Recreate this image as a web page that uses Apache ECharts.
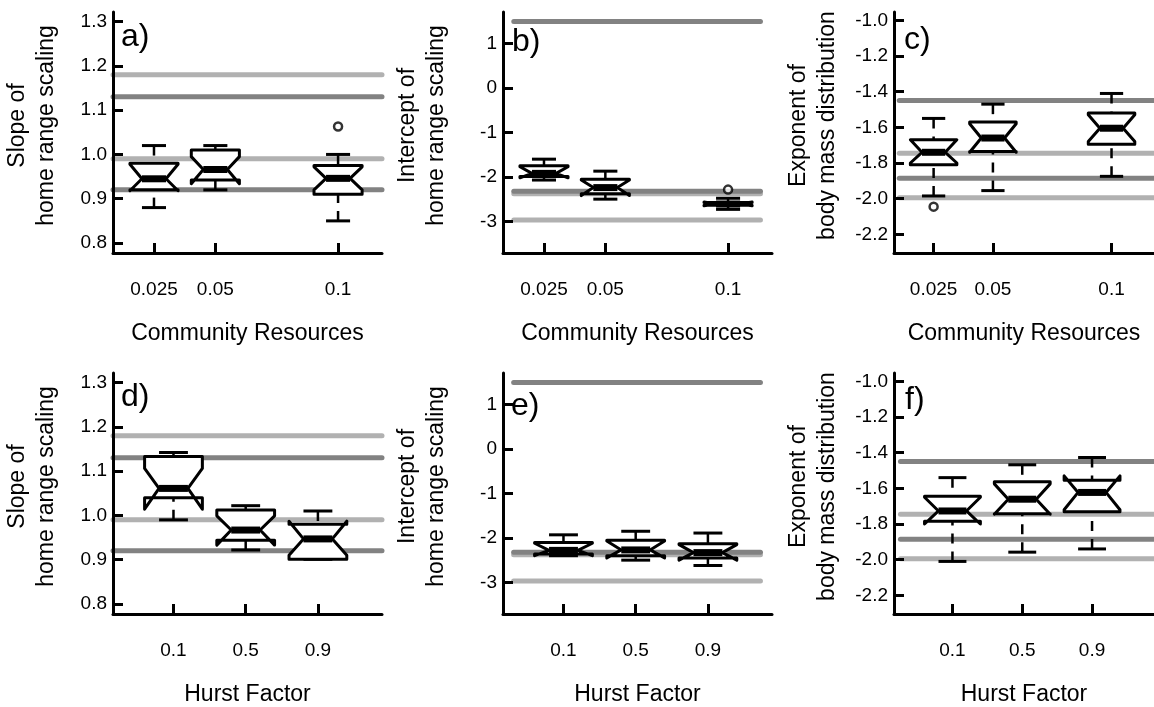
<!DOCTYPE html>
<html><head><meta charset="utf-8">
<script src="https://cdn.jsdelivr.net/npm/echarts@6/dist/echarts.min.js"></script>
<style>html,body{margin:0;padding:0;background:#fff}#c{width:1154px;height:707px}</style>
</head><body><div id="c"></div>
<script>
// ---------- categories / tick labels ----------
const resourceLevels = [0.025, 0.05, 0.1];
const resourceTickLabels = ['0.025', '0.05', '0.1'];
const hurstLevels = [0.1, 0.5, 0.9];
const hurstTickLabels = ['0.1', '0.5', '0.9'];

const slopeTicks = [0.8, 0.9, 1.0, 1.1, 1.2, 1.3];
const slopeTickLabels = ['0.8', '0.9', '1.0', '1.1', '1.2', '1.3'];
const interceptTicks = [-3, -2, -1, 0, 1];
const interceptTickLabels = ['-3', '-2', '-1', '0', '1'];
const exponentTicks = [-2.2, -2.0, -1.8, -1.6, -1.4, -1.2, -1.0];
const exponentTickLabels = ['-2.2', '-2.0', '-1.8', '-1.6', '-1.4', '-1.2', '-1.0'];

// ---------- reference lines ----------
const slopeRefLight = [1.18, 0.99];
const slopeRefDark = [1.13, 0.92];
const interceptRefLight = [-2.38, -2.97];
const interceptRefDark = [1.5, -2.32];
const exponentRefLight = [-1.745, -1.995];
const exponentRefDark = [-1.45, -1.885];

// ---------- box stats: [lowerWhisker, Q1, median, Q3, upperWhisker, notchLow, notchHigh] ----------
const slopeByResources = [
  [0.88, 0.92, 0.945, 0.98, 1.02, 0.918, 0.978],
  [0.92, 0.942, 0.966, 1.01, 1.02, 0.934, 0.995],
  [0.85, 0.91, 0.946, 0.975, 1.0, 0.92, 0.972]
];
const slopeByResourcesOutliers = [[0.1, 1.063]];

const interceptByResources = [
  [-2.07, -1.99, -1.92, -1.75, -1.6, -2.02, -1.77],
  [-2.5, -2.38, -2.24, -2.05, -1.87, -2.42, -2.07],
  [-2.73, -2.64, -2.61, -2.575, -2.48, -2.65, -2.565]
];
const interceptByResourcesOutliers = [[0.1, -2.285]];

const exponentByResources = [
  [-1.985, -1.81, -1.74, -1.67, -1.55, -1.8, -1.67],
  [-1.955, -1.735, -1.66, -1.57, -1.47, -1.74, -1.58],
  [-1.875, -1.695, -1.605, -1.52, -1.41, -1.68, -1.53]
];
const exponentByResourcesOutliers = [[0.025, -2.045]];

const slopeByHurst = [
  [0.99, 1.04, 1.061, 1.133, 1.142, 1.014, 1.106],
  [0.922, 0.944, 0.967, 1.012, 1.022, 0.933, 0.999],
  [0.901, 0.901, 0.947, 0.98, 1.01, 0.91, 0.987]
];
const slopeByHurstOutliers = [];

const interceptByHurst = [
  [-2.4, -2.36, -2.28, -2.1, -1.93, -2.4, -2.12],
  [-2.5, -2.4, -2.27, -2.05, -1.85, -2.45, -2.07],
  [-2.62, -2.45, -2.33, -2.13, -1.89, -2.5, -2.15]
];
const interceptByHurstOutliers = [];

const exponentByHurst = [
  [-2.01, -1.785, -1.727, -1.645, -1.54, -1.8, -1.65],
  [-1.958, -1.742, -1.661, -1.563, -1.468, -1.745, -1.575],
  [-1.94, -1.732, -1.623, -1.555, -1.427, -1.72, -1.53]
];
const exponentByHurstOutliers = [];

// ---------- layout / styling ----------
const FONT = 'Liberation Sans, Arial, sans-serif';
const LIGHT = '#b1b1b1', DARK = '#828282';
const resX = [0.0083, 0.1179];
const hurstX = [-0.235, 1.255];
const slopeY = [0.7775, 1.3215];
const interceptY = [-3.712, 1.712];
const exponentY = [-2.305, -0.953];

const panels = [
  {label:'a)', grid:{left:113, top:12, width:269, height:241}, lab:[121, 21],
   xr:resX, xt:resourceLevels, xl:resourceTickLabels, xname:'Community Resources',
   yr:slopeY, yt:slopeTicks, yl:slopeTickLabels, yname:'Slope of\nhome range scaling',
   levels:resourceLevels, stats:slopeByResources, out:slopeByResourcesOutliers,
   light:slopeRefLight, dark:slopeRefDark, hw:0.0098, lx:[0.0083, 0.1179]},
  {label:'b)', grid:{left:503, top:12, width:269, height:241}, lab:[512, 26],
   xr:resX, xt:resourceLevels, xl:resourceTickLabels, xname:'Community Resources',
   yr:interceptY, yt:interceptTicks, yl:interceptTickLabels, yname:'Intercept of\nhome range scaling',
   levels:resourceLevels, stats:interceptByResources, out:interceptByResourcesOutliers,
   light:interceptRefLight, dark:interceptRefDark, hw:0.0098, lx:[0.0127, 0.1132]},
  {label:'c)', grid:{left:894, top:12, width:269, height:241}, lab:[904, 24],
   xr:resX, xt:resourceLevels, xl:resourceTickLabels, xname:'Community Resources',
   yr:exponentY, yt:exponentTicks, yl:exponentTickLabels, yname:'Exponent of\nbody mass distribution',
   levels:resourceLevels, stats:exponentByResources, out:exponentByResourcesOutliers,
   light:exponentRefLight, dark:exponentRefDark, hw:0.0098, lx:[0.0105, 0.1179]},
  {label:'d)', grid:{left:113, top:373, width:269, height:242}, lab:[121, 381],
   xr:hurstX, xt:hurstLevels, xl:hurstTickLabels, xname:'Hurst Factor',
   yr:slopeY, yt:slopeTicks, yl:slopeTickLabels, yname:'Slope of\nhome range scaling',
   levels:hurstLevels, stats:slopeByHurst, out:slopeByHurstOutliers,
   light:slopeRefLight, dark:slopeRefDark, hw:0.16, lx:[-0.235, 1.255]},
  {label:'e)', grid:{left:503, top:373, width:269, height:241}, lab:[511, 390],
   xr:hurstX, xt:hurstLevels, xl:hurstTickLabels, xname:'Hurst Factor',
   yr:interceptY, yt:interceptTicks, yl:interceptTickLabels, yname:'Intercept of\nhome range scaling',
   levels:hurstLevels, stats:interceptByHurst, out:interceptByHurstOutliers,
   light:interceptRefLight, dark:interceptRefDark, hw:0.16, lx:[-0.176, 1.191]},
  {label:'f)', grid:{left:894, top:373, width:269, height:242}, lab:[905, 384],
   xr:hurstX, xt:hurstLevels, xl:hurstTickLabels, xname:'Hurst Factor',
   yr:exponentY, yt:exponentTicks, yl:exponentTickLabels, yname:'Exponent of\nbody mass distribution',
   levels:hurstLevels, stats:exponentByHurst, out:exponentByHurstOutliers,
   light:exponentRefLight, dark:exponentRefDark, hw:0.16, lx:[-0.198, 1.255]}
];

function lookup(ticks, labels) {
  return function (v) {
    let best = 0, d = Infinity;
    ticks.forEach((t, i) => { const dd = Math.abs(t - v); if (dd < d) { d = dd; best = i; } });
    return d < 1e-6 ? labels[best] : '';
  };
}

function boxRenderer(hw) {
  return function (params, api) {
    const x = api.value(0);
    const lo = api.value(1), q1 = api.value(2), md = api.value(3), q3 = api.value(4),
          hi = api.value(5), nl = api.value(6), nh = api.value(7);
    const P = (dx, v) => api.coord([x + dx, v]);
    const poly = [P(-hw, q1), P(hw, q1), P(hw, nl), P(hw / 2, md), P(hw, nh), P(hw, q3),
                  P(-hw, q3), P(-hw, nh), P(-hw / 2, md), P(-hw, nl)];
    const c = P(0, 0)[0];
    const yLo = P(0, lo)[1], yQ1 = P(0, q1)[1], yQ3 = P(0, q3)[1], yHi = P(0, hi)[1];
    const capL = P(-hw / 2, 0)[0], capR = P(hw / 2, 0)[0];
    const yMd = P(0, md)[1];
    const dash = {stroke:'#000', lineWidth:2.5, lineDash:[10, 8]};
    const children = [];
    if (Math.abs(yLo - yQ1) > 0.5) children.push({type:'line', shape:{x1:c, y1:yLo, x2:c, y2:yQ1}, style:dash});
    if (Math.abs(yHi - yQ3) > 0.5) children.push({type:'line', shape:{x1:c, y1:yHi, x2:c, y2:yQ3}, style:dash});
    children.push({type:'line', shape:{x1:capL, y1:yLo, x2:capR, y2:yLo}, style:{stroke:'#000', lineWidth:3}});
    children.push({type:'line', shape:{x1:capL, y1:yHi, x2:capR, y2:yHi}, style:{stroke:'#000', lineWidth:3}});
    children.push({type:'polygon', shape:{points:poly}, style:{fill:'#fff', stroke:'#000', lineWidth:3, lineJoin:'round'}});
    children.push({type:'line', shape:{x1:P(-hw / 2, md)[0], y1:yMd, x2:P(hw / 2, md)[0], y2:yMd}, style:{stroke:'#000', lineWidth:7}});
    return {type:'group', children};
  };
}

const option = {
  backgroundColor:'#fff', animation:false,
  title:[], grid:[], xAxis:[], yAxis:[], series:[]
};

panels.forEach((p, i) => {
  option.title.push({text:p.label, left:p.lab[0], top:p.lab[1], padding:0,
    textStyle:{fontSize:32, fontWeight:'normal', fontFamily:FONT, color:'#000', lineHeight:32}});
  option.grid.push(Object.assign({containLabel:false}, p.grid));
  option.xAxis.push({type:'value', gridIndex:i, min:p.xr[0], max:p.xr[1], z:5,
    name:p.xname, nameLocation:'middle', nameGap:69,
    nameTextStyle:{fontSize:23, fontFamily:FONT, color:'#000'},
    axisLine:{show:true, onZero:false, lineStyle:{color:'#000', width:3}},
    axisTick:{show:true, inside:true, length:10, customValues:p.xt, lineStyle:{color:'#000', width:3}},
    axisLabel:{customValues:p.xt, formatter:lookup(p.xt, p.xl), fontSize:19, fontFamily:FONT, color:'#000', margin:27},
    splitLine:{show:false}});
  option.yAxis.push({type:'value', gridIndex:i, min:p.yr[0], max:p.yr[1], z:5,
    name:p.yname, nameLocation:'middle', nameGap:52, nameRotate:90,
    nameTextStyle:{fontSize:23, fontFamily:FONT, color:'#000', lineHeight:29, padding:[0, 0, 0, 14]},
    axisLine:{show:true, onZero:false, lineStyle:{color:'#000', width:3}},
    axisTick:{show:true, inside:true, length:10, customValues:p.yt, lineStyle:{color:'#000', width:3}},
    axisLabel:{customValues:p.yt, formatter:lookup(p.yt, p.yl), fontSize:19, fontFamily:FONT, color:'#000', margin:6},
    splitLine:{show:false}});
  const ref = (v, col) => ({type:'line', xAxisIndex:i, yAxisIndex:i, silent:true, symbol:'none',
    data:[[p.lx[0], v], [p.lx[1], v]], lineStyle:{color:col, width:5, cap:'round'}, z:2});
  p.light.forEach(v => option.series.push(ref(v, LIGHT)));
  p.dark.forEach(v => option.series.push(ref(v, DARK)));
  option.series.push({type:'custom', xAxisIndex:i, yAxisIndex:i, silent:true, z:3,
    renderItem:boxRenderer(p.hw),
    data:p.levels.map((x, k) => [x].concat(p.stats[k]))});
  if (p.out.length) option.series.push({type:'scatter', xAxisIndex:i, yAxisIndex:i, silent:true, z:4,
    symbol:'circle', symbolSize:8, data:p.out,
    itemStyle:{color:'#fff', borderColor:'#000', borderWidth:2.5}});
});

const chart = echarts.init(document.getElementById('c'), null, {renderer:'canvas'});
chart.setOption(option);
</script></body></html>
